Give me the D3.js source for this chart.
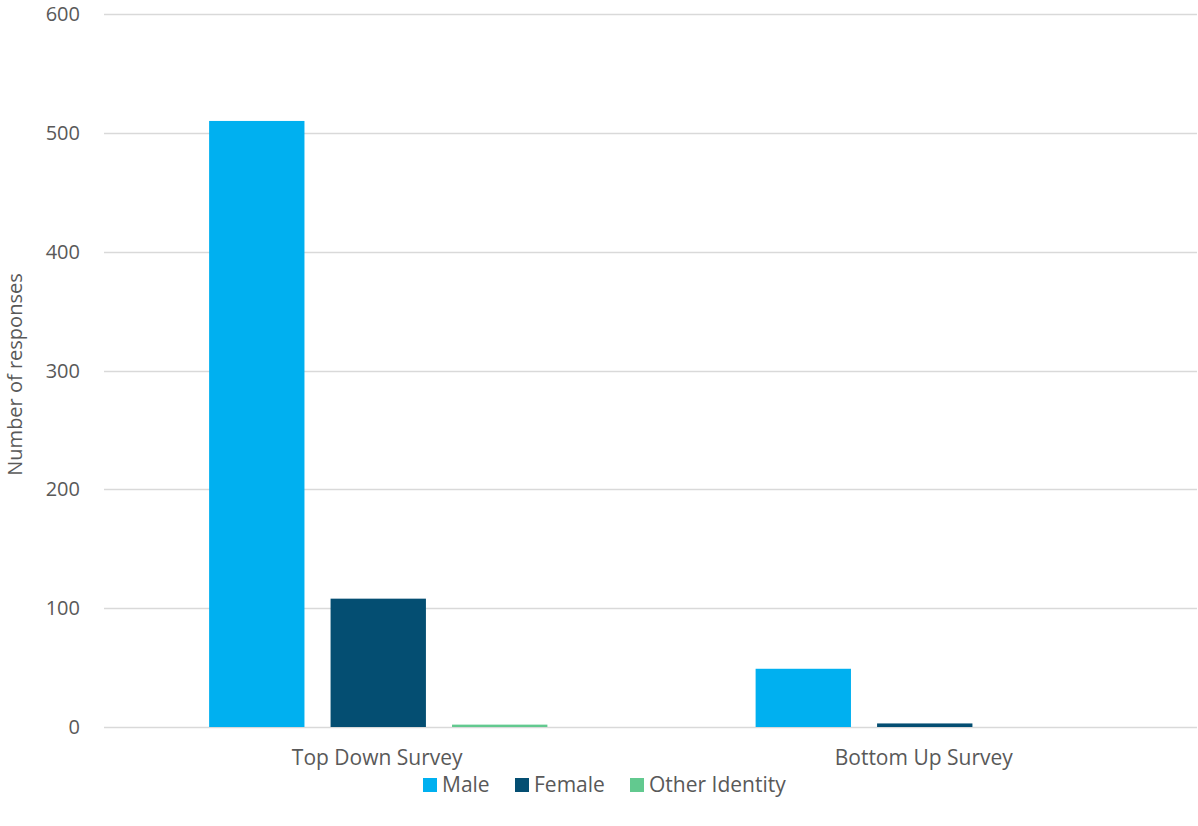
<!DOCTYPE html>
<html>
<head>
<meta charset="utf-8">
<script src="https://cdn.jsdelivr.net/npm/d3@7"></script>
<style>
  html, body { margin: 0; padding: 0; background: #fff; }
  svg { display: block; }
  text { font-family: "Open Sans", "Noto Sans", sans-serif; fill: #595959; }
</style>
</head>
<body>
<svg id="chart" width="1198" height="826"></svg>
<script>
// Survey responses by gender identity
const categories = ["Top Down Survey", "Bottom Up Survey"];
const seriesNames = ["Male", "Female", "Other Identity"];
const maleValues = [510, 49];
const femaleValues = [108, 3];
const otherValues = [2, 0];
const yTicks = [0, 100, 200, 300, 400, 500, 600];
const colors = ["#00B0F0", "#044E72", "#62C98F"];

const seriesValues = [maleValues, femaleValues, otherValues];
const rows = categories.map((c, i) => ({
  category: c,
  values: seriesNames.map((s, j) => ({ series: s, value: seriesValues[j][i] }))
}));

const svg = d3.select("#chart");
const margin = { left: 104, right: 1, top: 14, bottom: 99 };
const W = 1198, H = 826;
const plotL = margin.left, plotR = W - margin.right;
const plotT = margin.top, plotB = H - margin.bottom;

const y = d3.scaleLinear().domain([0, 600]).range([plotB, plotT]);
const x0 = d3.scaleBand().domain(categories).range([plotL, plotR]).padding(0);
const groupW = x0.bandwidth() * 0.619;
const x1 = d3.scaleBand().domain(seriesNames)
  .range([(x0.bandwidth() - groupW) / 2 + 1, (x0.bandwidth() + groupW) / 2 + 1])
  .paddingInner(0.215).paddingOuter(0);
const color = d3.scaleOrdinal().domain(seriesNames).range(colors);

// gridlines
svg.append("g")
  .selectAll("line")
  .data(yTicks)
  .join("line")
  .attr("x1", plotL).attr("x2", plotR)
  .attr("y1", d => Math.round(y(d)) + 0.5).attr("y2", d => Math.round(y(d)) + 0.5)
  .attr("stroke", "#D9D9D9").attr("stroke-width", 1.5);

// y tick labels
svg.append("g")
  .selectAll("text")
  .data(yTicks)
  .join("text")
  .attr("x", 80).attr("y", d => y(d))
  .attr("dy", "0.35em")
  .attr("text-anchor", "end")
  .attr("font-size", 20)
  .text(d => d);

// bars
svg.append("g")
  .selectAll("g")
  .data(rows)
  .join("g")
  .attr("transform", d => `translate(${x0(d.category)},0)`)
  .selectAll("rect")
  .data(d => d.values)
  .join("rect")
  .attr("x", d => x1(d.series))
  .attr("width", x1.bandwidth())
  .attr("y", d => y(d.value))
  .attr("height", d => y(0) - y(d.value))
  .attr("fill", d => color(d.series));

// category labels
svg.append("g")
  .selectAll("text")
  .data(categories)
  .join("text")
  .attr("x", d => x0(d) + x0.bandwidth() / 2)
  .attr("y", 758)
  .attr("dy", "0.35em")
  .attr("text-anchor", "middle")
  .attr("font-size", 21)
  .text(d => d);

// y axis title
svg.append("text")
  .attr("transform", `translate(22,${(plotT + plotB) / 2 + 4}) rotate(-90)`)
  .attr("text-anchor", "middle")
  .attr("font-size", 20)
  .text("Number of responses");

// legend
const legendX = [423, 515, 630];
const legend = svg.append("g")
  .selectAll("g")
  .data(seriesNames)
  .join("g")
  .attr("transform", (d, i) => `translate(${legendX[i]},785)`);
legend.append("rect")
  .attr("x", 0).attr("y", -7).attr("width", 14).attr("height", 14)
  .attr("fill", d => color(d));
legend.append("text")
  .attr("x", 19).attr("y", 0).attr("dy", "0.35em")
  .attr("font-size", 21)
  .text(d => d);
</script>
</body>
</html>
